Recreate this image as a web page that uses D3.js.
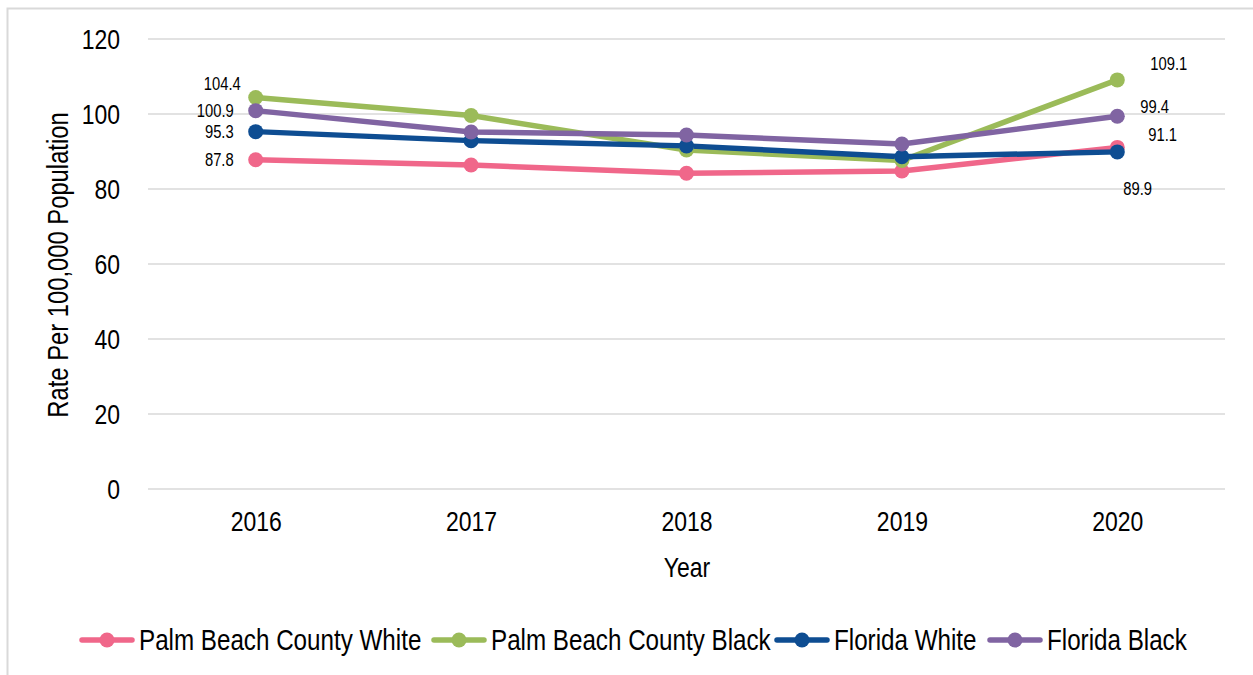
<!DOCTYPE html>
<html>
<head>
<meta charset="utf-8">
<script src="https://cdn.jsdelivr.net/npm/d3@7"></script>
<style>
  html, body { margin: 0; padding: 0; background: #fff; }
  svg { display: block; }
  text { font-family: "Liberation Sans", Arial, sans-serif; fill: #000; }
</style>
</head>
<body>
<svg id="chart" width="1253" height="675"></svg>
<script>
const years = ["2016", "2017", "2018", "2019", "2020"];
const seriesNames = ["Palm Beach County White", "Palm Beach County Black", "Florida White", "Florida Black"];
const pbcWhite = [87.8, 86.4, 84.2, 84.8, 91.1];
const pbcBlack = [104.4, 99.6, 90.4, 87.6, 109.1];
const flWhite = [95.3, 92.9, 91.5, 88.6, 89.9];
const flBlack = [100.9, 95.2, 94.4, 92.0, 99.4];
const yTicks = [0, 20, 40, 60, 80, 100, 120];
const colors = ["#f0678a", "#9bbb59", "#0e4d92", "#8064a2"];

const seriesValues = [pbcWhite, pbcBlack, flWhite, flBlack];
const series = seriesNames.map((name, i) => ({ name, values: seriesValues[i], color: colors[i] }));

// label placement (style): which points get labels and their offsets
const labelOffsets = {
  "0-0": { dx: -22, dy: 0, anchor: "end" },
  "1-0": { dx: -15, dy: -14, anchor: "end" },
  "2-0": { dx: -22, dy: 0, anchor: "end" },
  "3-0": { dx: -22, dy: 0, anchor: "end" },
  "0-4": { dx: 31, dy: -13, anchor: "start" },
  "1-4": { dx: 33, dy: -16, anchor: "start" },
  "2-4": { dx: 6, dy: 37, anchor: "start" },
  "3-4": { dx: 23, dy: -10, anchor: "start" }
};

const svg = d3.select("#chart");

// outer frame
svg.append("rect").attr("x", 7.5).attr("y", 8.5).attr("width", 1260).attr("height", 700)
  .attr("fill", "none").attr("stroke", "#d9d9d9").attr("stroke-width", 2);

const x = d3.scalePoint().domain(years).range([148, 1225]).padding(0.5);
const y = d3.scaleLinear().domain([0, 120]).range([489, 39]);

// gridlines
svg.append("g").selectAll("line").data(yTicks).join("line")
  .attr("x1", 148).attr("x2", 1225)
  .attr("y1", d => y(d)).attr("y2", d => y(d))
  .attr("stroke", "#d9d9d9").attr("stroke-width", 1.5);

// y axis
const yAxis = svg.append("g").attr("transform", "translate(148,0)")
  .call(d3.axisLeft(y).tickValues(yTicks).tickSize(0).tickPadding(28));
yAxis.select(".domain").remove();
yAxis.selectAll("text").attr("font-size", 28).attr("dy", "0.35em")
  .style("font-family", "'Liberation Sans', Arial, sans-serif");

// x axis
const xAxis = svg.append("g").attr("transform", "translate(0,489)")
  .call(d3.axisBottom(x).tickSize(0).tickPadding(22));
xAxis.select(".domain").remove();
xAxis.selectAll("text").attr("font-size", 28).attr("dy", "0.71em")
  .style("font-family", "'Liberation Sans', Arial, sans-serif");

// axis titles
svg.append("text").attr("x", 687).attr("y", 577).attr("text-anchor", "middle")
  .attr("font-size", 28).text("Year");
svg.append("text").attr("transform", "translate(68,265) rotate(-90)").attr("text-anchor", "middle")
  .attr("font-size", 29).text("Rate Per 100,000 Population");

// lines
const line = d3.line().x((d, i) => x(years[i])).y(d => y(d));
const g = svg.append("g");
series.forEach(s => {
  g.append("path").datum(s.values).attr("d", line)
    .attr("fill", "none").attr("stroke", s.color).attr("stroke-width", 5.5)
    .attr("stroke-linejoin", "round");
});
series.forEach(s => {
  g.selectAll(null).data(s.values).join("circle")
    .attr("cx", (d, i) => x(years[i])).attr("cy", d => y(d)).attr("r", 7.5)
    .attr("fill", s.color);
});

// data labels
series.forEach((s, si) => {
  s.values.forEach((v, i) => {
    const o = labelOffsets[si + "-" + i];
    if (!o) return;
    svg.append("text").attr("x", x(years[i]) + o.dx).attr("y", y(v) + o.dy)
      .attr("dy", "0.35em").attr("text-anchor", o.anchor).attr("font-size", 18)
      .text(v.toFixed(1));
  });
});

// legend
const legendX = [82, 434, 777, 990];
const legend = svg.append("g");
series.forEach((s, i) => {
  const lg = legend.append("g").attr("transform", `translate(${legendX[i]},640)`);
  lg.append("line").attr("x1", 0).attr("x2", 50).attr("y1", 0).attr("y2", 0)
    .attr("stroke", s.color).attr("stroke-width", 5.5).attr("stroke-linecap", "round");
  lg.append("circle").attr("cx", 25).attr("cy", 0).attr("r", 7.5).attr("fill", s.color);
  lg.append("text").attr("x", 57).attr("y", 0).attr("dy", "0.35em").attr("font-size", 29.5).text(s.name);
});

// condense text to mimic the narrow face of the original
svg.selectAll("text").each(function () {
  const w = this.getComputedTextLength();
  d3.select(this).attr("textLength", w * 0.82).attr("lengthAdjust", "spacingAndGlyphs");
});
</script>
</body>
</html>
